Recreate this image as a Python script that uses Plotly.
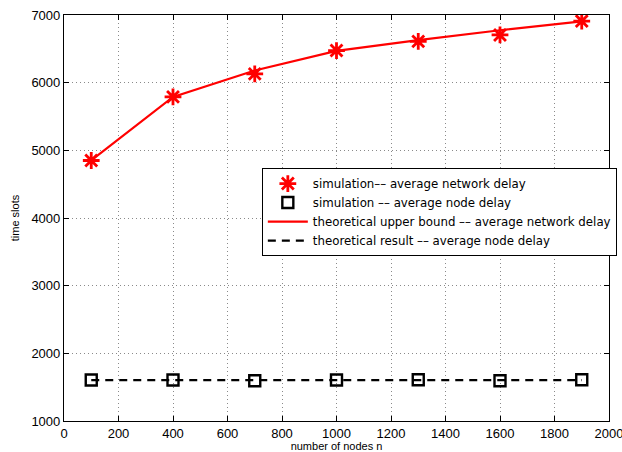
import plotly.graph_objects as go

n_nodes = [100, 400, 700, 1000, 1300, 1600, 1900]
sim_network_delay = [4850, 5790, 6130, 6475, 6610, 6705, 6910]
sim_node_delay = [1605, 1605, 1595, 1605, 1610, 1595, 1610]
theory_network_bound = [4850, 5790, 6180, 6470, 6630, 6775, 6905]
theory_node_delay = [1605, 1605, 1605, 1605, 1605, 1605, 1605]

fig = go.Figure()
fig.add_trace(go.Scatter(
    x=n_nodes, y=theory_network_bound, mode="lines",
    name="theoretical upper bound –– average network delay",
    line=dict(color="red", width=2.2), legendrank=3))
fig.add_trace(go.Scatter(
    x=n_nodes, y=theory_node_delay, mode="lines",
    name="theoretical result –– average node delay",
    line=dict(color="black", width=2.2, dash="8px,6px"), legendrank=4))
fig.add_trace(go.Scatter(
    x=n_nodes, y=sim_network_delay, mode="markers",
    name="simulation–– average network delay",
    marker=dict(symbol="asterisk-open", size=14, color="red",
                line=dict(color="red", width=2.8)), legendrank=1))
fig.add_trace(go.Scatter(
    x=n_nodes, y=sim_node_delay, mode="markers",
    name="simulation –– average node delay",
    marker=dict(symbol="square-open", size=11, color="black",
                line=dict(color="black", width=2.4)), legendrank=2))

axis_common = dict(
    showline=True, linecolor="black", linewidth=1.2, mirror="ticks",
    ticks="inside", ticklen=5, tickcolor="black",
    showgrid=True, gridcolor="#8a8a8a", griddash="1px,3px", gridwidth=1,
    zeroline=False, automargin=False, ticklabeloverflow="allow",
    tickfont=dict(family="Liberation Sans, Arial", size=13, color="black"),
)

fig.update_layout(
    width=622, height=452,
    margin=dict(l=64, r=13, t=15, b=31, autoexpand=False),
    paper_bgcolor="white", plot_bgcolor="white",
    font=dict(family="Liberation Sans, Arial", size=12, color="black"),
    xaxis=dict(range=[0, 2000], dtick=200, title=dict(text="number of nodes n", standoff=0,
               font=dict(size=11)), **axis_common),
    yaxis=dict(range=[1000, 7000], dtick=1000, title=dict(text="time slots", standoff=9,
               font=dict(size=11)), **axis_common),
    legend=dict(x=0.363, y=0.623, xanchor="left", yanchor="top",
                bordercolor="black", borderwidth=1, bgcolor="white",
                font=dict(family="DejaVu Sans", size=11.8), tracegroupgap=0, itemwidth=40),
    showlegend=True,
)

fig.write_html("out.html")
